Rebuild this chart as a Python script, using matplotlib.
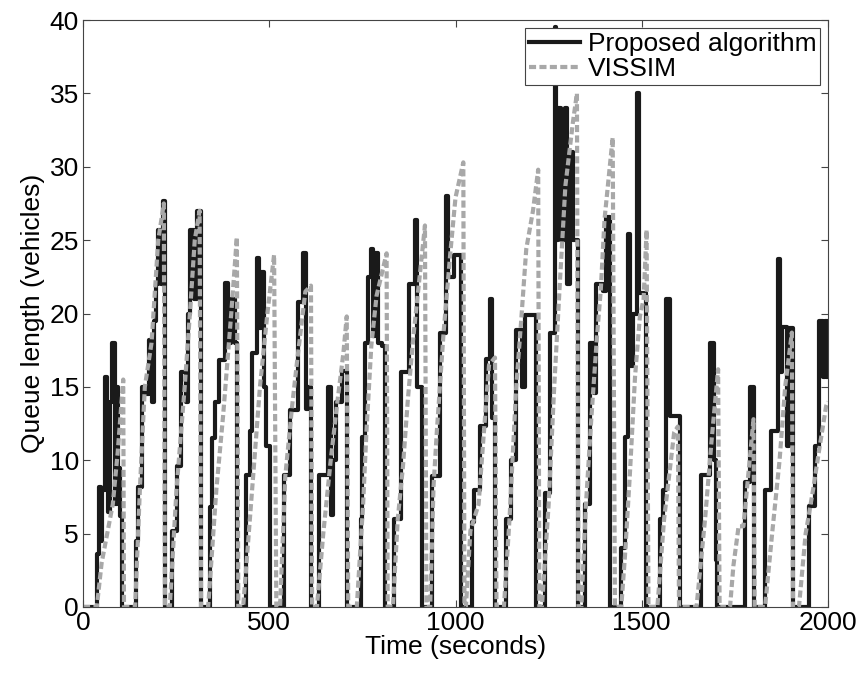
import matplotlib
matplotlib.use("Agg")
import matplotlib.pyplot as plt

plt.rcParams['font.family'] = ['Liberation Sans', 'DejaVu Sans']

# proposed algorithm, value holds from each time until the next (step data)
prop_t = [0,
          38, 42, 47, 52, 58, 64, 68, 72, 78, 85, 90, 95, 99, 105,
          143, 148, 158, 170, 178, 186, 190, 196, 202, 209, 214, 219, 221,
          238, 252, 262, 276, 283, 288, 298, 307, 318,
          341, 347, 354, 366, 380, 390, 398, 408, 413,
          438, 448, 455, 466, 472, 478, 486, 492, 501,
          540, 555, 578, 591, 598, 604, 611,
          634, 659, 667, 672, 680, 694, 708,
          745, 749, 758, 764, 772, 779, 785, 792, 802, 811,
          836, 853, 876, 890, 896, 911,
          936, 958, 975, 981, 996, 1014,
          1043, 1050, 1065, 1083, 1093, 1097, 1106,
          1135, 1150, 1163, 1178, 1187, 1215,
          1240, 1255, 1266, 1271, 1276, 1284, 1294, 1300, 1308, 1316, 1328,
          1347, 1360, 1372, 1378, 1395, 1405, 1416,
          1443, 1455, 1462, 1468, 1477, 1486, 1493, 1512,
          1548, 1558, 1566, 1577, 1603,
          1658, 1682, 1695, 1699, 1702,
          1777, 1790, 1801,
          1831, 1848, 1866, 1872, 1877, 1890, 1895, 1906,
          1950, 1966, 1976, 1986, 1992, 2000]
prop_q = [0,
          3.6, 8.2, 4.5, 8.0, 15.7, 14.0, 6.5, 14.0, 18.0, 7.0, 15.0, 9.5, 6.2, 0,
          4.5, 8.2, 15.0, 14.5, 18.2, 14.0, 19.5, 22.0, 25.7, 22.0, 27.7, 14.0, 0,
          5.2, 9.6, 16.0, 14.0, 20.0, 25.7, 21.0, 27.0, 0,
          6.8, 11.5, 14.0, 16.8, 22.1, 18.0, 21.0, 18.0, 0,
          9.0, 12.0, 17.3, 23.8, 19.0, 22.8, 15.0, 11.0, 0,
          9.0, 13.4, 20.8, 24.1, 13.5, 15.0, 0,
          9.0, 15.0, 6.3, 10.0, 14.0, 16.1, 0,
          6.0, 11.6, 18.0, 22.5, 24.4, 18.5, 24.1, 18.0, 17.8, 0,
          6.0, 16.0, 22.0, 26.4, 15.0, 0,
          8.9, 18.7, 28.0, 22.5, 24.0, 0,
          5.8, 8.0, 12.3, 16.9, 21.0, 12.9, 0,
          6.0, 10.0, 18.9, 15.0, 19.9, 0,
          7.8, 18.7, 39.5, 25.0, 34.0, 25.0, 34.0, 22.0, 31.0, 25.0, 0,
          7.0, 18.0, 14.6, 22.0, 21.5, 26.6, 0,
          4.0, 11.6, 25.4, 16.4, 20.0, 35.0, 21.4, 0,
          6.0, 8.0, 21.0, 13.0, 0,
          9.0, 18.0, 10.0, 3.2, 0,
          8.5, 15.0, 0,
          8.0, 12.0, 23.7, 16.0, 19.1, 11.0, 19.0, 0,
          6.9, 11.0, 19.5, 15.7, 19.5, 15.7]

# VISSIM
vis_t = [0, 37, 50, 80, 93, 108, 110, 140,
         153, 166, 184, 202, 217, 220, 233,
         251, 273, 287, 300, 313, 317, 336,
         358, 376, 398, 413, 417, 430,
         445, 460, 475, 495, 513, 519, 529,
         543, 561, 575, 597, 612, 615, 628,
         645, 665, 683, 699, 708, 712, 735,
         752, 761, 774, 788, 815, 818, 832,
         845, 859, 872, 886, 918, 922, 932,
         941, 950, 968, 986, 1000, 1021, 1024, 1028,
         1040, 1062, 1075, 1090, 1106, 1110, 1130,
         1145, 1163, 1176, 1190, 1208, 1222, 1225, 1232,
         1250, 1265, 1280, 1295, 1315, 1326, 1330, 1338,
         1350, 1365, 1380, 1390, 1400, 1422, 1428, 1445,
         1455, 1468, 1482, 1495, 1505, 1513, 1518, 1542,
         1560, 1587, 1597, 1600, 1647,
         1670, 1688, 1705, 1709, 1737,
         1746, 1760, 1773, 1800, 1803, 1831,
         1850, 1870, 1885, 1903, 1906, 1922,
         1940, 1960, 1975, 1995, 2000]
vis_q = [0, 0, 3.0, 7.0, 10.5, 15.5, 0, 0,
         8.2, 15.0, 18.0, 25.0, 27.5, 0, 0,
         8.0, 15.0, 20.0, 25.0, 27.0, 0, 0,
         8.0, 13.0, 20.0, 25.2, 0, 0,
         5.0, 10.0, 15.0, 20.0, 24.0, 0, 0,
         8.9, 13.6, 16.8, 21.5, 21.9, 0, 0,
         5.0, 10.0, 14.0, 17.3, 19.8, 0, 0,
         7.0, 12.0, 17.8, 21.2, 24.1, 0, 0,
         6.0, 9.6, 14.1, 18.2, 26.0, 0, 0,
         8.2, 12.0, 18.7, 24.1, 27.9, 30.3, 0, 0,
         5.2, 7.0, 11.5, 16.5, 17.0, 0, 0,
         6.0, 15.0, 19.4, 24.4, 27.0, 29.8, 0, 0,
         7.0, 15.0, 22.0, 28.7, 33.0, 35.0, 0, 0,
         6.9, 13.0, 18.5, 21.6, 26.4, 32.0, 0, 0,
         3.5, 9.0, 15.7, 19.8, 21.0, 25.7, 0, 0,
         6.0, 11.9, 12.3, 0, 0,
         6.0, 11.5, 16.2, 0, 0,
         2.8, 5.5, 5.5, 12.8, 0, 0,
         5.0, 10.0, 15.0, 18.7, 0, 0,
         5.0, 8.0, 10.5, 13.7, 14.0]

fig = plt.figure(figsize=(8.6, 6.75), dpi=100)
ax = fig.add_axes([83/860, 1 - 607/675, (828 - 83)/860, (607 - 20)/675])

ax.plot(prop_t, prop_q, color='#1a1a1a', lw=3.0, drawstyle='steps-post',
        label='Proposed algorithm')
ax.plot(vis_t, vis_q, color='#a8a8a8', lw=3.0, ls='--', dashes=(1.7, 0.8),
        label='VISSIM')

ax.set_xlim(0, 2000)
ax.set_ylim(0, 40)
ax.set_xticks([0, 500, 1000, 1500, 2000])
ax.set_yticks(range(0, 41, 5))
ax.tick_params(direction='in', top=True, right=True, labelsize=19, length=5,
               color='#444444', pad=3)
for s in ax.spines.values():
    s.set_color('#444444')
    s.set_linewidth(0.8)

ax.set_xlabel('Time (seconds)', fontsize=19, labelpad=0)
ax.set_ylabel('Queue length (vehicles)', fontsize=19, labelpad=3)

leg = ax.legend(loc='upper right', fontsize=19, fancybox=False, framealpha=1,
                edgecolor='#444444', borderaxespad=0.3, handlelength=1.9,
                handletextpad=0.3, borderpad=0.15, labelspacing=0.05)
leg.get_frame().set_linewidth(0.8)

fig.savefig('out.png', dpi=100)
